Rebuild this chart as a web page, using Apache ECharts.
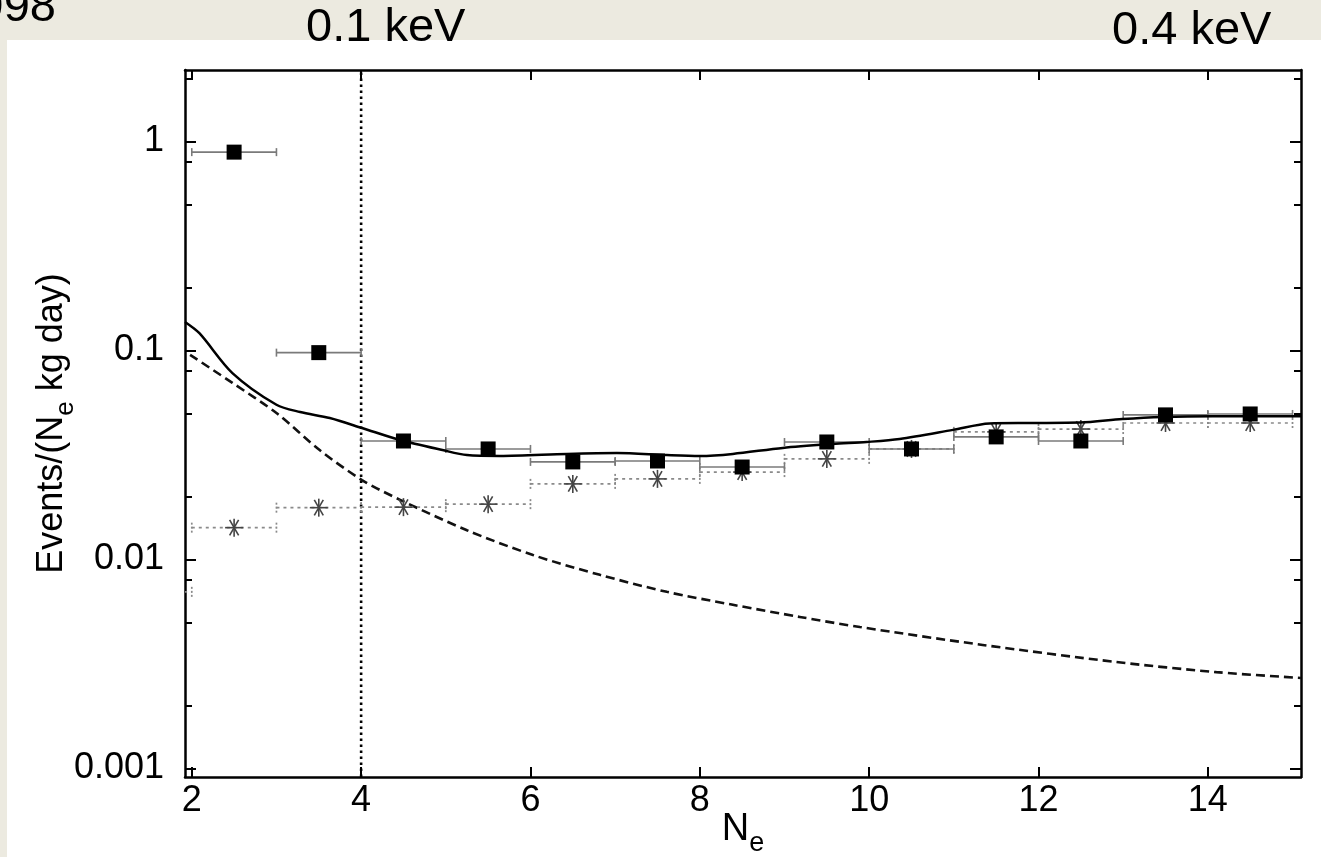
<!DOCTYPE html>
<html>
<head>
<meta charset="utf-8">
<script src="https://cdn.jsdelivr.net/npm/echarts@6/dist/echarts.min.js"></script>
<style>
  html, body { margin: 0; padding: 0; background: #ECEAE0; }
  #chart { width: 1321px; height: 857px; }
</style>
</head>
<body>
<div id="chart"></div>
<script>
// Axis ranges
const xMin = 1.92, xMax = 15.1;
const yMin = 0.00091, yMax = 2.2;

// Tick positions and labels
const xTicks = [2, 4, 6, 8, 10, 12, 14];
const yMajorTicks = [0.001, 0.01, 0.1, 1];
const yTickLabels = ['0.001', '0.01', '0.1', '1'];
const yMinorTicks = [0.002, 0.005, 0.008, 0.02, 0.05, 0.08, 0.2, 0.5, 0.8, 2];

// Measured rate per N_e bin (filled squares), bins of width 1
const binHalfWidth = 0.5;
const measuredNe = [2.5, 3.5, 4.5, 5.5, 6.5, 7.5, 8.5, 9.5, 10.5, 11.5, 12.5, 13.5, 14.5];
const measuredRate = [0.89, 0.0977, 0.0369, 0.0338, 0.0293, 0.0296, 0.0277, 0.0365, 0.0338, 0.0386, 0.0369, 0.0492, 0.0497];

// Background component per bin (asterisks)
const backgroundNe = [1.5, 2.5, 3.5, 4.5, 5.5, 6.5, 7.5, 8.5, 9.5, 10.5, 11.5, 12.5, 13.5, 14.5];
const backgroundRate = [0.0070, 0.0142, 0.0177, 0.0178, 0.0184, 0.0230, 0.0243, 0.0262, 0.0303, 0.0338, 0.0408, 0.0421, 0.0450, 0.0450];

// Total fit (solid curve)
const fitNe = [1.92, 2.09, 2.48, 3.0, 3.28, 3.63, 4.01, 4.46, 4.96, 5.25, 5.64, 6.43, 7.02, 7.61, 8.0, 8.39, 8.98, 9.57, 9.97, 10.36, 10.99, 11.42, 11.9, 12.49, 12.99, 13.47, 14.06, 15.1];
const fitRate = [0.137, 0.121, 0.078, 0.055, 0.0508, 0.0475, 0.0426, 0.0373, 0.0334, 0.0316, 0.0313, 0.0320, 0.0323, 0.0316, 0.0313, 0.0320, 0.0342, 0.0357, 0.0365, 0.0377, 0.0417, 0.0448, 0.0450, 0.0452, 0.0470, 0.0481, 0.0485, 0.0485];

// Low-N_e component (dashed curve)
const lowNe = [1.98, 2.48, 3.0, 3.51, 4.01, 4.46, 5.25, 6.03, 6.82, 7.61, 8.39, 9.18, 9.89, 11.34, 12.92, 14.1, 15.1];
const lowRate = [0.0953, 0.070, 0.0502, 0.0334, 0.024, 0.0193, 0.0138, 0.0105, 0.00844, 0.0070, 0.00607, 0.00531, 0.00475, 0.0039, 0.00323, 0.00289, 0.00271];

// Threshold marker
const thresholdNe = 4;

const FONT = 'Liberation Sans, Arial, Helvetica, sans-serif';
const zip = (a, b) => a.map((v, i) => [v, b[i]]);

const axisLine = { show: true, lineStyle: { color: '#000', width: 2.5 } };

function xAxisDef(position, withLabels) {
  return {
    type: 'value', position, min: xMin, max: xMax,
    axisLine,
    splitLine: { show: false },
    axisTick: { show: true, inside: true, length: 10, customValues: xTicks, lineStyle: { color: '#000', width: 2 } },
    axisLabel: withLabels
      ? { show: true, customValues: xTicks, fontSize: 36, color: '#000', fontFamily: FONT, margin: 6 }
      : { show: false },
    name: withLabels ? '{n|N}{s|e}' : '',
    nameLocation: 'middle',
    nameGap: 34,
    nameMoveOverlap: false,
    nameTextStyle: {
      rich: {
        n: { fontSize: 38, fontFamily: FONT, color: '#000', verticalAlign: 'top', lineHeight: 38 },
        s: { fontSize: 27, fontFamily: FONT, color: '#000', verticalAlign: 'top', lineHeight: 27, padding: [19, 0, 0, 0] }
      }
    }
  };
}

function yAxisDef(position, ticks, len, withLabels, showLine) {
  return {
    type: 'log', position, min: yMin, max: yMax, logBase: 10,
    axisLine: showLine ? axisLine : { show: false },
    splitLine: { show: false },
    minorTick: { show: false },
    axisTick: { show: true, inside: true, length: len, customValues: ticks, lineStyle: { color: '#000', width: 2 } },
    axisLabel: withLabels
      ? {
          show: true, customValues: yMajorTicks, fontSize: 36, color: '#000', fontFamily: FONT, margin: 21,
          formatter: (v) => {
            let best = 0;
            yMajorTicks.forEach((t, i) => { if (Math.abs(Math.log10(t) - Math.log10(v)) < Math.abs(Math.log10(yMajorTicks[best]) - Math.log10(v))) best = i; });
            return yTickLabels[best];
          }
        }
      : { show: false },
    name: withLabels ? '{n|Events/(N}{s|e}{n| kg day)}' : '',
    nameLocation: 'middle',
    nameGap: 113,
    nameMoveOverlap: false,
    nameTextStyle: {
      rich: {
        n: { fontSize: 36, fontFamily: FONT, color: '#000', verticalAlign: 'top', lineHeight: 38 },
        s: { fontSize: 26, fontFamily: FONT, color: '#000', verticalAlign: 'top', lineHeight: 26, padding: [19, 0, 0, 0] }
      }
    }
  };
}

// Filled squares with solid horizontal bin bars
function renderMeasured(params, api) {
  const x = api.value(0), y = api.value(1);
  const lo = api.coord([x - binHalfWidth, y]);
  const hi = api.coord([x + binHalfWidth, y]);
  const c = api.coord([x, y]);
  const bar = { stroke: '#7a7a7a', lineWidth: 1.6 };
  const cap = 4;
  const s = 15;
  return {
    type: 'group',
    children: [
      { type: 'line', shape: { x1: lo[0], y1: lo[1], x2: hi[0], y2: hi[1] }, style: bar },
      { type: 'line', shape: { x1: lo[0], y1: lo[1] - cap, x2: lo[0], y2: lo[1] + cap }, style: bar },
      { type: 'line', shape: { x1: hi[0], y1: hi[1] - cap, x2: hi[0], y2: hi[1] + cap }, style: bar },
      { type: 'rect', shape: { x: c[0] - s / 2, y: c[1] - s / 2, width: s, height: s }, style: { fill: '#000' } }
    ]
  };
}

// Asterisks with dotted horizontal bin bars
function renderBackground(params, api) {
  const x = api.value(0), y = api.value(1);
  const lo = api.coord([x - binHalfWidth, y]);
  const hi = api.coord([x + binHalfWidth, y]);
  const c = api.coord([x, y]);
  const bar = { stroke: '#8a8a8a', lineWidth: 1.7, lineDash: [3, 4] };
  const capStyle = { stroke: '#8a8a8a', lineWidth: 1.7, lineDash: [2, 2] };
  const cap = 5;
  const r = 9;
  const star = { stroke: '#444', lineWidth: 1.6 };
  const dx = r * Math.cos(Math.PI / 3), dy = r * Math.sin(Math.PI / 3);
  return {
    type: 'group',
    children: [
      { type: 'line', shape: { x1: lo[0], y1: lo[1], x2: hi[0], y2: hi[1] }, style: bar },
      { type: 'line', shape: { x1: lo[0], y1: lo[1] - cap, x2: lo[0], y2: lo[1] + cap }, style: capStyle },
      { type: 'line', shape: { x1: hi[0], y1: hi[1] - cap, x2: hi[0], y2: hi[1] + cap }, style: capStyle },
      { type: 'line', shape: { x1: c[0], y1: c[1] - r, x2: c[0], y2: c[1] + r }, style: star },
      { type: 'line', shape: { x1: c[0] - r, y1: c[1], x2: c[0] + r, y2: c[1] }, style: star },
      { type: 'line', shape: { x1: c[0] - dx, y1: c[1] - dy, x2: c[0] + dx, y2: c[1] + dy }, style: star },
      { type: 'line', shape: { x1: c[0] - dx, y1: c[1] + dy, x2: c[0] + dx, y2: c[1] - dy }, style: star }
    ]
  };
}

const chart = echarts.init(document.getElementById('chart'), null, { renderer: 'canvas' });

chart.setOption({
  backgroundColor: '#ECEAE0',
  animation: false,
  grid: { left: 185, top: 70, right: 20, bottom: 80, containLabel: false, outerBoundsMode: 'none' },
  graphic: [
    { type: 'rect', z: -10, silent: true, shape: { x: 7, y: 40, width: 1314, height: 817 }, style: { fill: '#fff' } },
    { type: 'text', z: 100, x: 56, y: 8, style: { text: '998', fontSize: 47, fontFamily: FONT, fill: '#000', align: 'right', verticalAlign: 'middle' } },
    { type: 'text', z: 100, x: 306, y: 28, style: { text: '0.1 keV', fontSize: 47, fontFamily: FONT, fill: '#000', align: 'left', verticalAlign: 'middle' } },
    { type: 'text', z: 100, x: 1112, y: 31, style: { text: '0.4 keV', fontSize: 47, fontFamily: FONT, fill: '#000', align: 'left', verticalAlign: 'middle' } }
  ],
  xAxis: [xAxisDef('bottom', true), xAxisDef('top', false)],
  yAxis: [
    yAxisDef('left', yMajorTicks, 11, true, true),
    yAxisDef('left', yMinorTicks, 7, false, false),
    yAxisDef('right', yMajorTicks, 11, false, true),
    yAxisDef('right', yMinorTicks, 7, false, false)
  ],
  series: [
    {
      name: 'threshold', type: 'line', xAxisIndex: 0, yAxisIndex: 0, z: 1,
      data: [[thresholdNe, yMin], [thresholdNe, yMax]],
      symbol: 'none', silent: true,
      lineStyle: { color: '#000', width: 2.6, type: [2.5, 3.5] }
    },
    {
      name: 'low', type: 'line', xAxisIndex: 0, yAxisIndex: 0, z: 2,
      data: zip(lowNe, lowRate), smooth: 0.3, symbol: 'none', clip: true,
      lineStyle: { color: '#111', width: 2.6, type: [9, 5] }
    },
    {
      name: 'background', type: 'custom', xAxisIndex: 0, yAxisIndex: 0, z: 3, clip: true,
      data: zip(backgroundNe, backgroundRate), renderItem: renderBackground
    },
    {
      name: 'measured', type: 'custom', xAxisIndex: 0, yAxisIndex: 0, z: 4, clip: true,
      data: zip(measuredNe, measuredRate), renderItem: renderMeasured
    },
    {
      name: 'fit', type: 'line', xAxisIndex: 0, yAxisIndex: 0, z: 5,
      data: zip(fitNe, fitRate), smooth: 0.3, symbol: 'none', clip: true,
      lineStyle: { color: '#000', width: 2.5 }
    }
  ]
});
</script>
</body>
</html>
